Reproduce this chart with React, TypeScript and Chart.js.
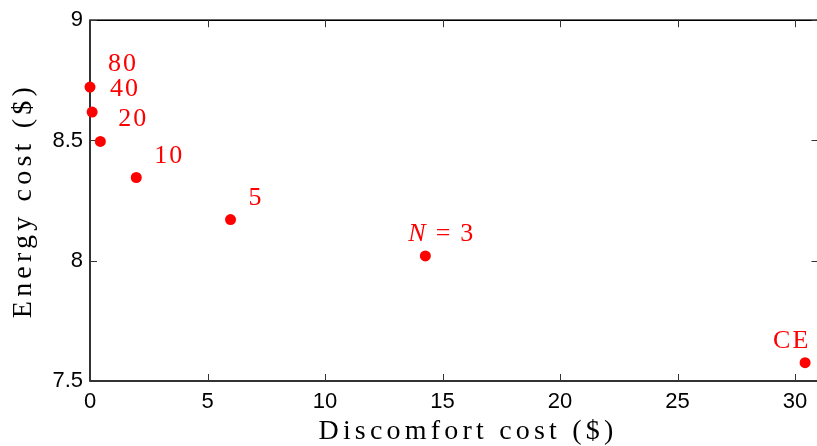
import React, { useEffect, useRef } from "react";
import { Chart, registerables } from "chart.js";

Chart.register(...registerables);

// ---- data ----
const pointLabels = ["80", "40", "20", "10", "5", "N = 3", "CE"];
const discomfortCost = [0.0, 0.09, 0.44, 1.97, 5.98, 14.27, 30.43];
const energyCost = [8.722, 8.618, 8.496, 8.346, 8.171, 8.02, 7.576];
const xTickValues = [0, 5, 10, 15, 20, 25, 30];
const yTickValues = [7.5, 8, 8.5, 9];
const xTitle = "Discomfort cost ($)";
const yTitle = "Energy cost ($)";

// ---- styling (label offsets in px relative to point) ----
const labelStyle = [
  { dx: 18, dy: -16 },
  { dx: 18, dy: -16 },
  { dx: 18, dy: -15.5 },
  { dx: 18, dy: -15 },
  { dx: 18, dy: -15 },
  { dx: -17, dy: -14.5 },
  { dx: -32, dy: -14.5 },
];

const RED = "#ff0000";
const SERIF = '"Liberation Serif", "Times New Roman", serif';
const SANS = '"Liberation Sans", Arial, sans-serif';

const framePlugin = {
  id: "frame",
  beforeDatasetsDraw(chart: any) {
    const { ctx, chartArea, scales } = chart;
    const { left, top, right, bottom } = chartArea;
    ctx.save();
    ctx.strokeStyle = "#000";
    ctx.lineWidth = 1.6;
    ctx.strokeRect(left, top, right - left, bottom - top);
    ctx.lineWidth = 1;
    ctx.strokeStyle = "#333";
    const L = 7;
    ctx.beginPath();
    for (const v of xTickValues) {
      const px = Math.round(scales.x.getPixelForValue(v)) + 0.5;
      ctx.moveTo(px, bottom);
      ctx.lineTo(px, bottom - L);
      ctx.moveTo(px, top);
      ctx.lineTo(px, top + L);
    }
    for (const v of yTickValues) {
      const py = Math.round(scales.y.getPixelForValue(v)) + 0.5;
      ctx.moveTo(left, py);
      ctx.lineTo(left + L, py);
      ctx.moveTo(right, py);
      ctx.lineTo(right - L, py);
    }
    ctx.stroke();
    ctx.restore();
  },
  afterDatasetsDraw(chart: any) {
    const { ctx, chartArea, scales } = chart;
    ctx.save();
    ctx.fillStyle = RED;
    ctx.textBaseline = "alphabetic";
    ctx.textAlign = "left";
    pointLabels.forEach((lab, i) => {
      const px = scales.x.getPixelForValue(discomfortCost[i]);
      const py = scales.y.getPixelForValue(energyCost[i]);
      const st = labelStyle[i];
      let x = px + st.dx;
      const y = py + st.dy;
      (ctx as any).letterSpacing = "2px";
      const m = lab.match(/^N(.*)$/);
      if (m) {
        ctx.font = `italic 26px ${SERIF}`;
        (ctx as any).letterSpacing = "0px";
        ctx.fillText("N", x, y);
        x += ctx.measureText("N").width;
        ctx.font = `26px ${SERIF}`;
        const rest = m[1].trim().split(" ");
        x += 10;
        ctx.fillText(rest[0], x, y);
        x += ctx.measureText(rest[0]).width + 10;
        ctx.fillText(rest.slice(1).join(" "), x, y);
      } else {
        ctx.font = `26px ${SERIF}`;
        ctx.fillText(lab, x, y);
      }
    });
    ctx.restore();

    // axis titles
    ctx.save();
    ctx.fillStyle = "#000";
    ctx.font = `28px ${SERIF}`;
    (ctx as any).letterSpacing = "4.2px";
    ctx.textAlign = "center";
    ctx.textBaseline = "alphabetic";
    ctx.fillText(xTitle, 468, 439);
    ctx.translate(31, (chartArea.top + chartArea.bottom) / 2);
    ctx.rotate(-Math.PI / 2);
    ctx.fillText(yTitle, 0, 0);
    ctx.restore();
  },
};

export default function App() {
  const ref = useRef<HTMLCanvasElement>(null);
  useEffect(() => {
    document.body.style.margin = "0";
    const canvas = ref.current!;
    const chart = new Chart(canvas, {
      type: "scatter",
      data: {
        datasets: [
          {
            data: discomfortCost.map((x, i) => ({ x, y: energyCost[i] })),
            pointRadius: 5.5,
            pointBackgroundColor: RED,
            pointBorderWidth: 0,
            backgroundColor: RED,
            borderColor: RED,
            showLine: false,
            clip: false as any,
          },
        ],
      },
      options: {
        animation: false,
        responsive: false,
        devicePixelRatio: 1,
        layout: { padding: { left: 0, top: 17, right: 6.5, bottom: 0 } },
        plugins: { legend: { display: false }, tooltip: { enabled: false } },
        scales: {
          x: {
            type: "linear",
            min: 0,
            max: 31,
            afterFit: (s: any) => {
              s.height = 65;
            },
            afterBuildTicks: (s: any) => {
              s.ticks = xTickValues.map((v) => ({ value: v }));
            },
            grid: { display: false, drawTicks: false },
            border: { display: false },
            ticks: {
              padding: 8,
              color: "#000",
              font: { family: SANS, size: 22 },
              callback: (v: any) => String(v),
              maxRotation: 0,
              autoSkip: false,
            },
          },
          y: {
            type: "linear",
            min: 7.5,
            max: 9,
            afterFit: (s: any) => {
              s.width = 90;
            },
            afterBuildTicks: (s: any) => {
              s.ticks = yTickValues.map((v) => ({ value: v }));
            },
            grid: { display: false, drawTicks: false },
            border: { display: false },
            ticks: {
              padding: 7,
              color: "#000",
              font: { family: SANS, size: 22 },
              callback: (v: any) => String(v),
              autoSkip: false,
            },
          },
        },
      },
      plugins: [framePlugin],
    });
    return () => chart.destroy();
  }, []);
  return (
    <div style={{ width: 817, height: 446, overflow: "hidden", background: "#fff" }}>
      <canvas ref={ref} width={825} height={446} style={{ display: "block" }} />
    </div>
  );
}
